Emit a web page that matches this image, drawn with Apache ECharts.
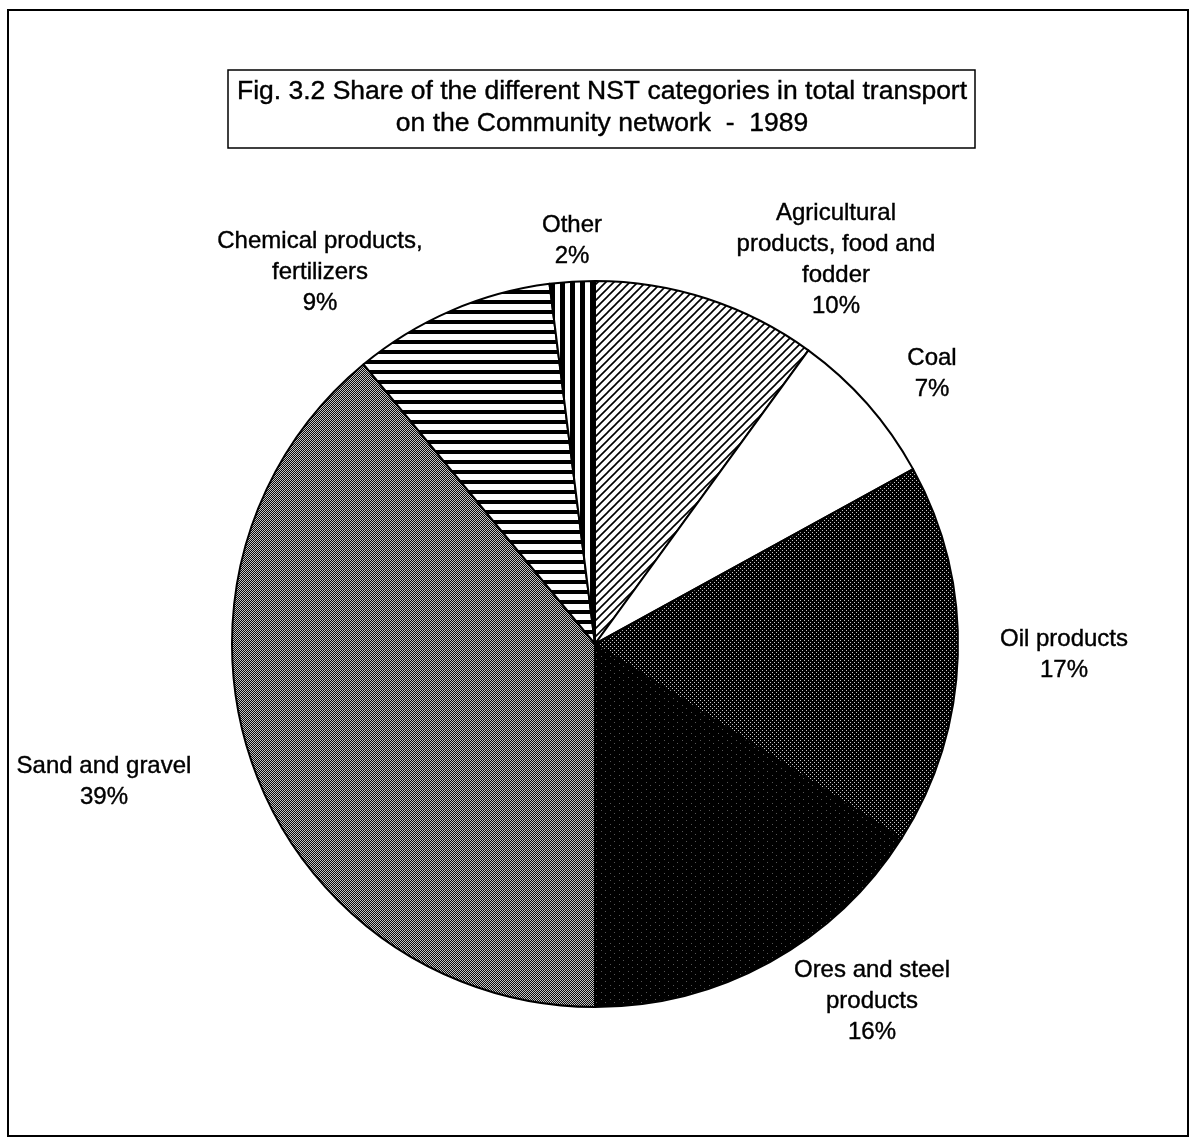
<!DOCTYPE html>
<html>
<head>
<meta charset="utf-8">
<title>Share of the different NST categories in total transport - 1989</title>
<script src="https://cdn.jsdelivr.net/npm/echarts@6/dist/echarts.min.js"></script>
<style>
  html, body { margin: 0; padding: 0; background: #fff; }
  #chart { width: 1195px; height: 1139px; }
</style>
</head>
<body>
<div id="chart"></div>
<script>
// Categories (clockwise from 12 o'clock) and their shares in percent
const categories = [
  'Agricultural\nproducts, food and\nfodder',
  'Coal',
  'Oil products',
  'Ores and steel\nproducts',
  'Sand and gravel',
  'Chemical products,\nfertilizers',
  'Other'
];
const shares = [10, 7, 17, 16, 39, 9, 2];

const titleLines = [
  'Fig. 3.2 Share of the different NST categories in total transport',
  'on the Community network  -  1989'
];

// Label anchor points (centre of each text block)
const labelPos = [
  [836, 260], [932, 374], [1064, 655], [872, 1001],
  [104, 782], [320, 272], [572, 241]
];

const FONT = '"Liberation Sans", Arial, Helvetica, sans-serif';

// ---- monochrome fill patterns ----
function tile(w, h, draw) {
  const c = document.createElement('canvas');
  c.width = w; c.height = h;
  const g = c.getContext('2d');
  draw(g, w, h);
  return { image: c, repeat: 'repeat' };
}
const diagonal = tile(8, 8, (g, w, h) => {
  g.fillStyle = '#fff'; g.fillRect(0, 0, w, h);
  g.strokeStyle = '#000'; g.lineWidth = 1.6;
  g.beginPath();
  g.moveTo(-1, h + 1); g.lineTo(w + 1, -1);
  g.moveTo(-1, 1); g.lineTo(1, -1);
  g.moveTo(w - 1, h + 1); g.lineTo(w + 1, h - 1);
  g.stroke();
});
const plainWhite = '#ffffff';
const darkDots = tile(4, 4, (g, w, h) => {
  g.fillStyle = '#000'; g.fillRect(0, 0, w, h);
  g.fillStyle = '#c8c8c8';
  g.fillRect(0, 0, 1, 1); g.fillRect(2, 2, 1, 1);
});
const nearBlack = tile(9, 7, (g, w, h) => {
  g.fillStyle = '#000'; g.fillRect(0, 0, w, h);
  g.fillStyle = '#555';
  g.fillRect(2, 1, 1, 1); g.fillRect(7, 5, 1, 1);
});
const checker = tile(2, 2, (g, w, h) => {
  g.fillStyle = '#0a0a0a'; g.fillRect(0, 0, w, h);
  g.fillStyle = '#c4c4c4';
  g.fillRect(0, 0, 1, 1); g.fillRect(1, 1, 1, 1);
});
const hStripes = tile(10, 10, (g, w, h) => {
  g.fillStyle = '#fff'; g.fillRect(0, 0, w, h);
  g.fillStyle = '#000'; g.fillRect(0, 0, w, 4);
});
const vStripes = tile(10, 10, (g, w, h) => {
  g.fillStyle = '#fff'; g.fillRect(0, 0, w, h);
  g.fillStyle = '#000'; g.fillRect(0, 0, 5, h);
});
const fills = [diagonal, plainWhite, darkDots, nearBlack, checker, hStripes, vStripes];

const chart = echarts.init(document.getElementById('chart'), null, { renderer: 'canvas' });

const titleStyle = {
  font: '26.5px ' + FONT, fill: '#000',
  stroke: '#000', lineWidth: 0.4,
  textAlign: 'center', textVerticalAlign: 'middle'
};

chart.setOption({
  backgroundColor: '#fff',
  animation: false,
  graphic: [
    { type: 'rect', shape: { x: 8, y: 10, width: 1180, height: 1126 },
      style: { fill: 'none', stroke: '#000', lineWidth: 2 } },
    { type: 'rect', shape: { x: 228, y: 70, width: 747, height: 78 },
      style: { fill: '#fff', stroke: '#000', lineWidth: 1.5 } },
    { type: 'text', x: 602, y: 92,
      style: Object.assign({ text: titleLines[0] }, titleStyle) },
    { type: 'text', x: 602, y: 124,
      style: Object.assign({ text: titleLines[1] }, titleStyle) }
  ],
  series: [{
    type: 'pie',
    center: [595, 644],
    radius: 363,
    startAngle: 90,
    clockwise: true,
    silent: true,
    data: categories.map((name, i) => ({
      name: name,
      value: shares[i],
      itemStyle: { color: fills[i] }
    })),
    itemStyle: { borderColor: '#000', borderWidth: 2 },
    labelLine: { show: false },
    label: {
      show: true,
      position: 'outside',
      color: '#000',
      fontFamily: FONT,
      fontSize: 24,
      lineHeight: 31,
      align: 'center',
      textBorderColor: '#000',
      textBorderWidth: 0.4,
      formatter: p => p.name + '\n' + p.value + '%'
    },
    labelLayout: p => ({
      x: labelPos[p.dataIndex][0],
      y: labelPos[p.dataIndex][1],
      align: 'center',
      verticalAlign: 'middle'
    })
  }]
});
</script>
</body>
</html>
